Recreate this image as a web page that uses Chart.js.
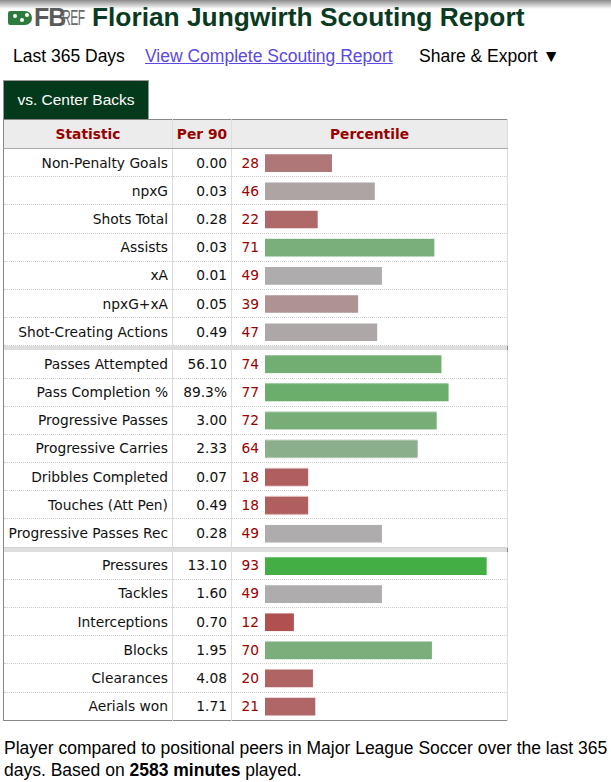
<!DOCTYPE html>
<html lang="en">
<head>
    <meta charset="UTF-8">
    <title>Florian Jungwirth Scouting Report</title>
    <style>
        body {
            margin: 0;
            width: 611px;
            height: 782px;
            position: relative;
            overflow: hidden;
            background: #fff;
            font-family: "Liberation Sans", Arial, sans-serif;
        }
        .shade {
            position: absolute; left: 0; top: 0; width: 611px; height: 9px;
            background: linear-gradient(#8c8c8c, rgba(255,255,255,0));
            z-index: 5;
        }
        .logo { position: absolute; left: 8px; top: 6px; height: 22px; }
        .logo .ball {
            position: absolute; left: 0; top: 5px; width: 24px; height: 14px;
            background: #2f7a3e; border-radius: 3px 9px 9px 3px;
        }
        .logo .ball i {
            position: absolute; width: 4px; height: 4px; background: #fff; border-radius: 2px;
        }
        .logo .fb {
            position: absolute; left: 26px; top: -3px; font: bold 25px "Liberation Sans", Arial, sans-serif;
            color: #5a5a5a; letter-spacing: -1px;
        }
        .logo .ref {
            position: absolute; left: 54px; top: -1px; font: 22px "Liberation Sans", Arial, sans-serif;
            color: #6a6a6a; transform: scaleX(0.55); transform-origin: left; letter-spacing: -1px;
        }
        h1 {
            position: absolute; left: 92px; top: 0; margin: 0;
            font: bold 26.3px "Liberation Sans", Arial, sans-serif;
            color: #0a3a22; line-height: 34px;
        }
        .sub { position: absolute; top: 45px; font-size: 17.5px; line-height: 22px; color: #000; }
        .sub a { color: #5a4ae3; text-decoration: underline; }
        .tab {
            position: absolute; left: 3px; top: 80px; width: 144px; height: 38px;
            background: #033a1b; border: 1px solid #999; border-bottom: none;
            color: #fff; font-size: 15.5px; line-height: 38px; text-align: center;
        }
        .wrap { position: absolute; left: 3px; top: 119px; }
        table {
            border-collapse: collapse; border: 1px solid #888;
            font-family: "DejaVu Sans", Verdana, sans-serif; font-size: 13.8px;
            table-layout: fixed; width: 504px;
        }
        th {
            background: #ececec; color: #990000; font-weight: bold;
            height: 28px; padding: 0; border-right: 1px solid #ddd; border-bottom: 1px solid #aaa;
        }
        td {
            padding: 0; height: 27.2px; border-right: 1px solid #ddd;
            border-bottom: 1px dotted #ccc; color: #111;
        }
        td.stat { text-align: right; padding-right: 4px; }
        td.p90 { text-align: right; padding-right: 4px; }
        td.pct span { display: inline-block; width: 18px; margin-left: 9px; text-align: right; color: #990000; }
        tr.sep td { height: 4px; background: #ddd; border: none; }
        .bars { position: absolute; }
        .note {
            position: absolute; left: 4px; top: 737px; width: 607px;
            font-size: 17.5px; line-height: 22px; color: #000;
        }
    </style>
    <script src="https://cdn.jsdelivr.net/npm/chart.js"></script>
</head>
<body>
    <div class="shade"></div>
    <div class="logo">
        <div class="ball"><i style="left:5px;top:3px"></i><i style="left:12px;top:7px"></i><i style="left:17px;top:2px"></i></div>
        <span class="fb">FB</span><span class="ref">REF</span>
    </div>
    <h1>Florian Jungwirth Scouting Report</h1>
    <div class="sub" style="left:13px">Last 365 Days</div>
    <div class="sub" style="left:145px"><a href="#">View Complete Scouting Report</a></div>
    <div class="sub" style="left:419px">Share &amp; Export &#9660;</div>
    <div class="tab">vs. Center Backs</div>

    <div class="wrap" id="wrap">
        <table id="scout">
            <colgroup><col style="width:169px"><col style="width:59px"><col style="width:276px"></colgroup>
            <thead><tr><th>Statistic</th><th>Per 90</th><th>Percentile</th></tr></thead>
            <tbody id="rows"></tbody>
        </table>
    </div>

    <div class="note">Player compared to positional peers in Major League Soccer over the last 365 days. Based on <b>2583 minutes</b> played.</div>

    <script>
        // attacking
        const attackStats = ["Non-Penalty Goals", "npxG", "Shots Total", "Assists", "xA", "npxG+xA", "Shot-Creating Actions"];
        const attackPer90 = ["0.00", "0.03", "0.28", "0.03", "0.01", "0.05", "0.49"];
        const attackPct = [28, 46, 22, 71, 49, 39, 47];

        // possession
        const possStats = ["Passes Attempted", "Pass Completion %", "Progressive Passes", "Progressive Carries", "Dribbles Completed", "Touches (Att Pen)", "Progressive Passes Rec"];
        const possPer90 = ["56.10", "89.3%", "3.00", "2.33", "0.07", "0.49", "0.28"];
        const possPct = [74, 77, 72, 64, 18, 18, 49];

        // defending
        const defStats = ["Pressures", "Tackles", "Interceptions", "Blocks", "Clearances", "Aerials won"];
        const defPer90 = ["13.10", "1.60", "0.70", "1.95", "4.08", "1.71"];
        const defPct = [93, 49, 12, 70, 20, 21];

        const groups = [
            [attackStats, attackPer90, attackPct],
            [possStats, possPer90, possPct],
            [defStats, defPer90, defPct]
        ];

        // red -> grey -> green depending on percentile
        function pctColor(v) {
            let grey = 174, lo = [177, 50, 50], hi = [50, 174, 50];
            let end = v < 50 ? lo : hi;
            let t = Math.abs(v - 50) / 50;
            let c = end.map(e => Math.round(grey + (e - grey) * t));
            return 'rgb(' + c.join(',') + ')';
        }

        let tbody = document.getElementById('rows');
        let groupRows = [];
        groups.forEach(function (g, gi) {
            if (gi > 0) {
                let sep = document.createElement('tr');
                sep.className = 'sep';
                sep.innerHTML = '<td colspan="3"></td>';
                tbody.appendChild(sep);
            }
            let trs = [];
            g[0].forEach(function (name, i) {
                let tr = document.createElement('tr');
                tr.innerHTML = '<td class="stat">' + name + '</td><td class="p90">' + g[1][i] +
                    '</td><td class="pct"><span>' + g[2][i] + '</span></td>';
                tbody.appendChild(tr);
                trs.push(tr);
            });
            groupRows.push(trs);
        });

        // one bar chart laid over each group of rows
        let wrap = document.getElementById('wrap');
        let base = wrap.getBoundingClientRect();
        groups.forEach(function (g, gi) {
            let trs = groupRows[gi];
            let first = trs[0].getBoundingClientRect();
            let last = trs[trs.length - 1].getBoundingClientRect();
            let box = document.createElement('div');
            box.className = 'bars';
            box.style.left = (265 - 3) + 'px';
            box.style.width = '238px';
            box.style.top = (first.top - base.top) + 'px';
            box.style.height = (last.bottom - first.top) + 'px';
            let canvas = document.createElement('canvas');
            box.appendChild(canvas);
            wrap.appendChild(box);

            new Chart(canvas.getContext('2d'), {
                type: 'bar',
                data: {
                    labels: g[0],
                    datasets: [{
                        data: g[2],
                        backgroundColor: ctx => pctColor(ctx.raw),
                        barThickness: 17,
                        borderWidth: 0
                    }]
                },
                options: {
                    indexAxis: 'y',
                    responsive: true,
                    maintainAspectRatio: false,
                    animation: false,
                    layout: { padding: 0 },
                    plugins: { legend: { display: false }, tooltip: { enabled: false } },
                    scales: {
                        x: { display: false, min: 0, max: 100 },
                        y: { display: false, offset: true }
                    }
                }
            });
        });
    </script>
</body>
</html>
